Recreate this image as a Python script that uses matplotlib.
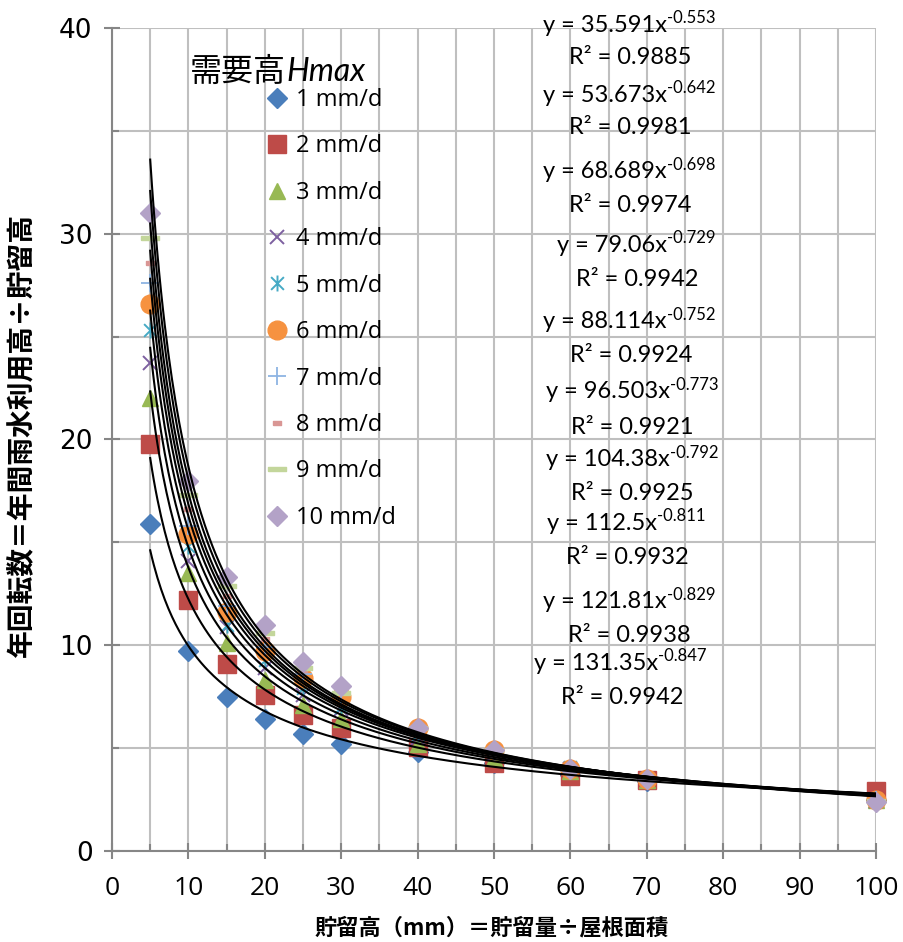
import numpy as np
import matplotlib
matplotlib.use("Agg")
import matplotlib.pyplot as plt
from matplotlib.path import Path

plt.rcParams['font.family'] = ['Lato', 'Noto Sans CJK JP', 'DejaVu Sans']

# data
x = [5, 10, 15, 20, 25, 30, 40, 50, 60, 70, 100]
labels = ['1 mm/d', '2 mm/d', '3 mm/d', '4 mm/d', '5 mm/d',
          '6 mm/d', '7 mm/d', '8 mm/d', '9 mm/d', '10 mm/d']
s1 = [15.9, 9.7, 7.5, 6.4, 5.7, 5.2, 4.8, 4.3, 3.7, 3.4, 2.5]
s2 = [19.8, 12.2, 9.1, 7.6, 6.6, 6.0, 5.05, 4.3, 3.65, 3.45, 2.9]
s3 = [22.0, 13.5, 10.1, 8.3, 7.1, 6.4, 5.2, 4.5, 3.9, 3.45, 2.5]
s4 = [23.7, 14.1, 10.9, 8.9, 7.6, 6.9, 5.5, 4.7, 4.0, 3.5, 2.45]
s5 = [25.3, 14.8, 11.0, 9.3, 7.9, 7.0, 5.7, 4.9, 4.1, 3.5, 2.5]
s6 = [26.6, 15.4, 11.6, 9.7, 8.4, 7.5, 6.0, 4.9, 4.0, 3.5, 2.5]
s7 = [27.6, 15.8, 11.9, 9.9, 8.6, 7.6, 6.0, 4.9, 4.0, 3.5, 2.5]
s8 = [28.6, 16.6, 12.4, 10.3, 8.8, 7.8, 6.0, 4.9, 4.0, 3.5, 2.45]
s9 = [29.8, 17.3, 12.9, 10.6, 8.9, 7.7, 6.0, 4.9, 4.0, 3.5, 2.45]
s10 = [31.0, 18.0, 13.3, 11.0, 9.2, 8.0, 6.0, 4.9, 4.0, 3.5, 2.4]
series = [s1, s2, s3, s4, s5, s6, s7, s8, s9, s10]

# power trendline coefficients as printed on the chart
coef = [35.591, 53.673, 68.689, 79.06, 88.114, 96.503, 104.38, 112.5, 121.81, 131.35]
expo = [-0.553, -0.642, -0.698, -0.729, -0.752, -0.773, -0.792, -0.811, -0.829, -0.847]
r2 = ['0.9885', '0.9981', '0.9974', '0.9942', '0.9924', '0.9921', '0.9925', '0.9932', '0.9938', '0.9942']

W, H = 904, 942
fig = plt.figure(figsize=(W/100, H/100), dpi=100)
ax = fig.add_axes([112/W, 1-851/H, 764/W, 823/H])

# marker styles (excel 2007 look)
aster = Path([(-1, -1), (1, 1), (-1, 1), (1, -1), (0, -1.25), (0, 1.25)],
             [Path.MOVETO, Path.LINETO, Path.MOVETO, Path.LINETO, Path.MOVETO, Path.LINETO])
dash_s = [(-1, -0.45), (1, -0.45), (1, 0.45), (-1, 0.45), (-1, -0.45)]
dash_l = [(-1, -0.25), (1, -0.25), (1, 0.25), (-1, 0.25), (-1, -0.25)]
colors = ['#4A7EBB', '#BE4B48', '#98B954', '#7D60A0', '#46AAC5',
          '#F69240', '#8EB4E3', '#D99694', '#C3D69B', '#B3A2C7']
styles = [dict(marker='D', ms=10),
          dict(marker='s', ms=12.5),
          dict(marker='^', ms=11.5),
          dict(marker='x', ms=10.5, mew=1.4),
          dict(marker=aster, ms=11.5, mew=1.4, mfc='none'),
          dict(marker='o', ms=13.5),
          dict(marker='+', ms=12.5, mew=1.3),
          dict(marker=dash_s, ms=6),
          dict(marker=dash_l, ms=13),
          dict(marker='D', ms=10)]

for i in range(10):
    ax.plot(x, series[i], linestyle='none', color=colors[i], mec=colors[i],
            label=labels[i], clip_on=False, zorder=3+i*0.1, **styles[i])

# trendlines
xx = np.linspace(5, 100, 400)
for a, b in zip(coef, expo):
    ax.plot(xx, a*xx**b, color='black', lw=1.5, zorder=5)

ax.set_xlim(0, 100)
ax.set_ylim(0, 40)
ax.set_xticks(np.arange(0, 101, 10))
ax.set_xticks(np.arange(0, 101, 5), minor=True)
ax.set_yticks(np.arange(0, 41, 10))
ax.set_yticks(np.arange(0, 41, 5), minor=True)
ax.grid(True, which='both', color='#BFBFBF', lw=1.5, zorder=0)
ax.set_axisbelow(True)
for sp in ['top', 'right']:
    ax.spines[sp].set_visible(False)
for sp in ['left', 'bottom']:
    ax.spines[sp].set_color('#868686')
    ax.spines[sp].set_linewidth(1.5)
ax.tick_params(which='major', direction='inout', length=12, width=1.5, color='#868686')
ax.tick_params(which='minor', direction='in', length=5, width=1.5, color='#868686')
ax.tick_params(axis='x', pad=12)
ax.tick_params(axis='y', pad=8)
for lb in ax.get_xticklabels():
    lb.set_fontfamily('Open Sans')
    lb.set_fontsize(19)
for lb in ax.get_yticklabels():
    lb.set_fontfamily('DejaVu Sans')
    lb.set_fontsize(19)

fig.text(492/W, 1-928/H, '貯留高（mm）＝貯留量÷屋根面積', ha='center', va='center',
         fontsize=16, fontweight='bold', family=['Noto Sans CJK JP', 'DejaVu Sans'])
fig.text(22/W, 1-435/H, '年回転数＝年間雨水利用高÷貯留高', ha='center', va='center',
         rotation=90, fontsize=20, fontweight='bold', family=['Noto Sans CJK JP', 'DejaVu Sans'])

# legend
t = fig.text(190/W, 1-72/H, '需要高', ha='left', va='center', fontsize=23,
             family=['Noto Sans CJK JP', 'DejaVu Sans'])
ax.annotate('Hmax', xy=(1, 0.5), xycoords=t, va='center', ha='left', fontsize=23,
            style='italic', family='Lato')
ax.legend(loc='upper left', bbox_to_anchor=(268/W, 1-88/H), bbox_transform=fig.transFigure,
          frameon=False, prop={'family': 'Open Sans', 'size': 17},
          handlelength=0.75, handletextpad=0.45,
          labelspacing=0.95, borderpad=0, borderaxespad=0)

# trendline equations
eq_y = [25, 95, 172, 245, 322, 392, 460, 523, 602, 663]
eq_xr = [667, 667, 667, 667, 667, 670, 670, 657, 667, 658]
r_y = [57, 127, 205, 280, 356, 427, 493, 558, 635, 698]
r_x = [630, 630, 630, 637, 631, 632, 632, 627, 629, 622]
for i in range(10):
    m = fig.text(eq_xr[i]/W, 1-eq_y[i]/H, 'y = %gx' % coef[i], ha='right', va='center',
                 fontsize=17)
    ax.annotate('%g' % expo[i], xy=(1, 1), xycoords=m, xytext=(0, 3),
                textcoords='offset points', va='top', ha='left', fontsize=12)
    fig.text(r_x[i]/W, 1-r_y[i]/H, 'R² = ' + r2[i], ha='center', va='center', fontsize=17)

fig.savefig('out.png', dpi=100)
